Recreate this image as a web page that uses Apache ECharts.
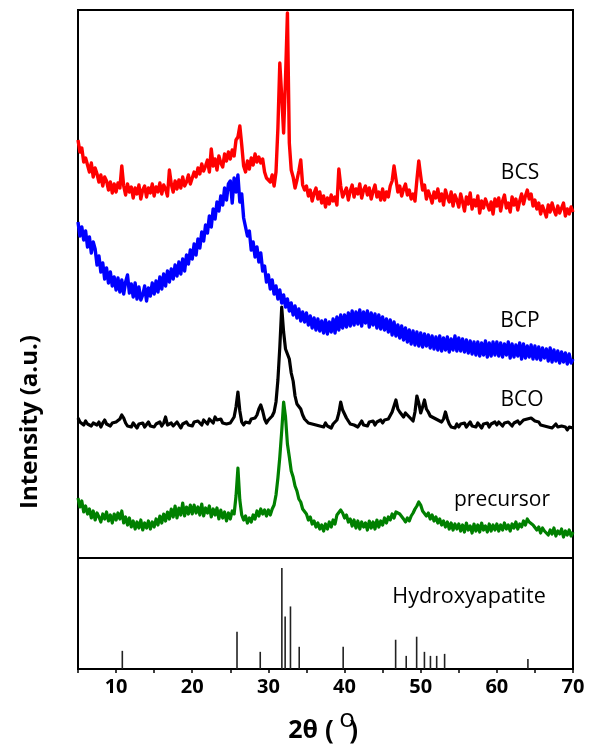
<!DOCTYPE html>
<html>
<head>
<meta charset="utf-8">
<script src="https://cdn.jsdelivr.net/npm/echarts@6/dist/echarts.min.js"></script>
<style>
  html, body { margin: 0; padding: 0; background: #fff; }
  #chart { width: 591px; height: 753px; }
</style>
</head>
<body>
<div id="chart"></div>
<script>
// Scan grid: 2θ from 5° to 70° in 0.25° steps (261 points)
const scanStart = 5;
const scanStep = 0.25;
const scanCount = 261;

// Stacked diffraction patterns (intensity in a.u., offsets included)
const bcs = [
  418, 406, 410, 396, 400, 393, 386, 395, 381, 390, 384, 376, 383, 372, 381, 377, 368, 376, 365, 374,
  366, 375, 370, 392, 372, 363, 374, 366, 371, 360, 370, 364, 373, 359, 368, 372, 361, 370, 365, 374,
  362, 371, 366, 375, 364, 373, 369, 362, 388, 374, 366, 377, 369, 378, 370, 381, 372, 376, 383, 374,
  376, 386, 381, 390, 384, 394, 387, 392, 398, 386, 409, 392, 399, 388, 402, 395, 391, 404, 397, 406,
  399, 408, 402, 418, 421, 432, 413, 392, 386, 397, 389, 400, 393, 404, 396, 401, 395, 399, 386, 380,
  381, 376, 383, 372, 386, 430, 495, 462, 425, 480, 545, 415, 388, 381, 370, 378, 387, 398, 373, 368,
  372, 362, 368, 357, 365, 370, 359, 366, 355, 362, 351, 360, 354, 363, 357, 361, 353, 389, 372, 361,
  362, 370, 358, 367, 373, 361, 369, 364, 374, 360, 368, 372, 363, 370, 359, 367, 373, 361, 366, 358,
  369, 358, 366, 361, 372, 377, 392, 379, 366, 372, 362, 369, 374, 363, 368, 359, 364, 357, 378, 397,
  382, 368, 373, 359, 367, 362, 355, 366, 360, 369, 357, 364, 353, 368, 361, 356, 366, 352, 363, 358,
  351, 364, 356, 347, 361, 354, 365, 349, 358, 352, 362, 345, 357, 350, 359, 361, 348, 356, 344, 359,
  352, 360, 347, 357, 363, 350, 355, 346, 361, 353, 359, 348, 357, 364, 354, 362, 368, 359, 364, 352,
  358, 349, 355, 344, 352, 347, 341, 353, 346, 355, 348, 343, 352, 345, 350, 355, 342, 349, 344, 351,
  346
];

const bcp = [
  336, 322, 331, 318, 327, 311, 321, 305, 316, 309, 293, 302, 286, 295, 279, 290, 275, 286, 272, 281,
  268, 280, 266, 278, 264, 276, 283, 265, 274, 261, 275, 259, 271, 258, 263, 272, 257, 270, 262, 275,
  264, 277, 266, 281, 269, 284, 272, 287, 276, 289, 279, 293, 282, 296, 284, 299, 287, 303, 294, 308,
  299, 314, 303, 319, 310, 326, 317, 333, 325, 342, 331, 349, 339, 356, 347, 362, 353, 370, 358, 374,
  377, 355, 380, 366, 383, 356, 364, 340, 341, 322, 327, 308, 316, 301, 311, 296, 305, 287, 292, 276,
  283, 269, 278, 264, 272, 259, 268, 255, 263, 251, 259, 247, 255, 243, 252, 240, 249, 237, 246, 236,
  245, 233, 242, 230, 240, 228, 239, 227, 237, 225, 238, 224, 236, 226, 239, 225, 241, 228, 243, 230,
  243, 231, 245, 232, 247, 233, 246, 234, 248, 232, 246, 235, 247, 231, 245, 233, 244, 230, 243, 229,
  241, 228, 239, 226, 238, 223, 236, 222, 233, 220, 232, 218, 230, 216, 228, 214, 227, 213, 226, 212,
  225, 211, 224, 212, 223, 210, 222, 209, 221, 208, 222, 207, 220, 208, 221, 206, 219, 208, 222, 207,
  220, 207, 219, 206, 218, 205, 217, 204, 216, 203, 216, 202, 215, 203, 217, 201, 215, 202, 216, 203,
  216, 202, 215, 201, 214, 203, 216, 200, 214, 201, 213, 202, 215, 199, 214, 200, 212, 201, 213, 199,
  212, 199, 211, 198, 210, 200, 209, 197, 210, 196, 208, 197, 207, 195, 206, 196, 205, 194, 204, 195,
  199
];

const bco = [
  140, 136, 138, 133, 137, 134, 136, 132, 135, 137, 133, 136, 131, 135, 138, 134, 136, 132, 135, 133,
  136, 134, 139, 143, 140, 135, 132, 134, 131, 135, 133, 130, 134, 132, 135, 131, 133, 136, 132, 134,
  131, 134, 133, 136, 132, 135, 141, 133, 131, 135, 132, 134, 136, 133, 130, 134, 132, 136, 133, 135,
  132, 136, 134, 137, 135, 133, 138, 136, 134, 139, 137, 135, 141, 138, 136, 139, 135, 137, 134, 136,
  135, 137, 141, 151, 166, 147, 136, 133, 136, 138, 135, 139, 137, 140, 143, 149, 153, 147, 139, 135,
  138, 140, 142, 146, 156, 178, 211, 251, 226, 209, 204, 199, 185, 177, 162, 154, 156, 149, 143, 139,
  138, 135, 137, 134, 136, 133, 135, 132, 134, 131, 135, 132, 133, 130, 134, 132, 138, 145, 156, 148,
  147, 140, 137, 134, 136, 133, 135, 131, 134, 137, 133, 135, 132, 136, 134, 137, 133, 136, 134, 138,
  135, 138, 136, 139, 141, 146, 152, 158, 149, 146, 144, 141, 145, 147, 141, 139, 137, 146, 162, 155,
  145, 151, 158, 149, 146, 142, 144, 140, 142, 138, 140, 136, 139, 146, 139, 134, 131, 133, 130, 134,
  131, 134, 132, 135, 131, 133, 136, 132, 134, 131, 135, 133, 130, 134, 132, 135, 131, 134, 132, 136,
  133, 136, 134, 132, 135, 133, 136, 134, 132, 135, 133, 137, 134, 136, 138, 137, 139, 141, 140, 138,
  137, 135, 136, 133, 135, 132, 134, 131, 133, 130, 132, 134, 131, 129, 132, 130, 131, 128, 131, 129,
  130
];

const precursor = [
  60, 51, 57, 46, 52, 44, 49, 40, 47, 38, 45, 41, 36, 44, 39, 46, 37, 43, 35, 44,
  38, 45, 39, 47, 35, 41, 33, 40, 31, 37, 29, 36, 30, 38, 28, 35, 30, 37, 29, 36,
  31, 39, 33, 42, 35, 44, 37, 46, 39, 49, 41, 52, 40, 50, 43, 55, 42, 51, 44, 53,
  44, 53, 45, 51, 43, 54, 42, 50, 45, 52, 41, 49, 43, 50, 39, 48, 40, 46, 37, 45,
  39, 47, 44, 62, 90, 58, 43, 38, 42, 35, 40, 36, 43, 39, 47, 42, 49, 44, 48, 42,
  48, 43, 49, 53, 63, 80, 101, 127, 156, 141, 114, 101, 87, 81, 72, 67, 59, 56, 49, 47,
  44, 38, 41, 34, 37, 31, 35, 29, 33, 27, 34, 29, 36, 31, 38, 34, 43, 42, 48, 45,
  40, 43, 36, 39, 32, 38, 30, 37, 29, 36, 31, 35, 28, 37, 30, 36, 29, 38, 31, 37,
  33, 40, 35, 41, 38, 44, 40, 46, 48, 44, 42, 39, 36, 40, 37, 42, 45, 49, 52, 56,
  53, 47, 49, 42, 45, 39, 43, 37, 41, 35, 39, 33, 37, 31, 36, 29, 35, 28, 34, 29,
  34, 27, 33, 26, 35, 28, 32, 25, 34, 27, 33, 26, 35, 28, 32, 26, 34, 27, 33, 28,
  34, 27, 33, 28, 35, 29, 33, 27, 34, 30, 36, 29, 34, 31, 37, 33, 39, 36, 37, 33,
  33, 28, 31, 25, 30, 27, 29, 23, 28, 24, 30, 22, 27, 24, 29, 21, 27, 23, 28, 22,
  26
];

// Hydroxyapatite reference reflections: 2θ positions and relative intensities
const hapAngles = [10.82, 25.88, 28.93, 31.77, 32.20, 32.90, 34.05, 39.82, 46.71, 48.10, 49.47, 50.49, 51.28, 52.10, 53.14, 64.08];
const hapIntensity = [18, 37, 17, 100, 52, 62, 22, 22, 29, 13, 32, 17, 13, 13, 15, 10];

const xTicks = [10, 20, 30, 40, 50, 60, 70];
const seriesNames = ['BCS', 'BCP', 'BCO', 'precursor'];
const seriesColors = ['#ff0000', '#0000ff', '#000000', '#008000'];
const seriesWidths = [3.4, 3.4, 3.2, 3.2];

const angles = [];
for (let i = 0; i < scanCount; i++) angles.push(scanStart + i * scanStep);
const pair = (arr) => angles.map((a, i) => [a, arr[i]]);

const FONT = '"Open Sans", "Liberation Sans", sans-serif';

const chart = echarts.init(document.getElementById('chart'), null, { renderer: 'canvas' });

const patterns = [bcs, bcp, bco, precursor].map((arr, k) => ({
  name: seriesNames[k],
  type: 'line',
  xAxisIndex: 0,
  yAxisIndex: 0,
  data: pair(arr),
  showSymbol: false,
  symbol: 'none',
  smooth: false,
  lineStyle: { color: seriesColors[k], width: seriesWidths[k], join: 'round' },
  z: 4 - k,
  silent: true
}));

chart.setOption({
  animation: false,
  backgroundColor: '#ffffff',
  grid: [
    { left: 78, right: 18, top: 10, height: 548, show: true, borderColor: '#000', borderWidth: 2, backgroundColor: 'transparent' },
    { left: 78, right: 18, top: 558, height: 111, show: true, borderColor: '#000', borderWidth: 2, backgroundColor: 'transparent' }
  ],
  xAxis: [
    { gridIndex: 0, type: 'value', min: 5, max: 70, show: false },
    {
      gridIndex: 1, type: 'value', min: 5, max: 70, interval: 5,
      axisLine: { show: true, onZero: false, lineStyle: { color: '#000', width: 2 } },
      axisTick: { show: true, inside: false, length: 4, lineStyle: { color: '#000', width: 1.5 } },
      splitLine: { show: false },
      axisLabel: {
        margin: 8,
        color: '#000',
        fontFamily: FONT,
        fontWeight: 'bold',
        fontSize: 20,
        formatter: (v) => (xTicks.indexOf(v) >= 0 ? String(v) : '')
      }
    }
  ],
  yAxis: [
    { gridIndex: 0, type: 'value', min: 0, max: 548, show: false },
    { gridIndex: 1, type: 'value', min: 0, max: 110, show: false }
  ],
  series: patterns.concat([{
    name: 'Hydroxyapatite',
    type: 'bar',
    xAxisIndex: 1,
    yAxisIndex: 1,
    barWidth: 1.6,
    data: hapAngles.map((a, i) => [a, hapIntensity[i]]),
    itemStyle: { color: '#222' },
    silent: true
  }]),
  graphic: [
    { type: 'text', x: 520, y: 173, style: { text: 'BCS', font: '21px ' + FONT, fill: '#000', align: 'center', verticalAlign: 'middle' } },
    { type: 'text', x: 520, y: 321, style: { text: 'BCP', font: '21px ' + FONT, fill: '#000', align: 'center', verticalAlign: 'middle' } },
    { type: 'text', x: 522, y: 400, style: { text: 'BCO', font: '21px ' + FONT, fill: '#000', align: 'center', verticalAlign: 'middle' } },
    { type: 'text', x: 502, y: 500, style: { text: 'precursor', font: '21px ' + FONT, fill: '#000', align: 'center', verticalAlign: 'middle' } },
    { type: 'text', x: 469, y: 597, style: { text: 'Hydroxyapatite', font: '21.5px ' + FONT, fill: '#000', align: 'center', verticalAlign: 'middle' } },
    { type: 'text', x: 30, y: 422, rotation: Math.PI / 2, style: { text: 'Intensity (a.u.)', font: 'bold 24px ' + FONT, fill: '#000', align: 'center', verticalAlign: 'middle' } },
    // axis title: 2θ (°)
    { type: 'text', x: 318, y: 731, style: { text: '2θ', font: 'bold 25px ' + FONT, fill: '#000', align: 'right', verticalAlign: 'middle' } },
    { type: 'text', x: 325, y: 732, style: { text: '(', font: 'bold 26px ' + FONT, fill: '#000', align: 'left', verticalAlign: 'middle' } },
    { type: 'text', x: 347, y: 720, style: { text: 'o', font: '26px ' + FONT, fill: '#000', align: 'center', verticalAlign: 'middle' } },
    { type: 'text', x: 358, y: 732, style: { text: ')', font: 'bold 26px ' + FONT, fill: '#000', align: 'right', verticalAlign: 'middle' } }
  ]
});
</script>
</body>
</html>
